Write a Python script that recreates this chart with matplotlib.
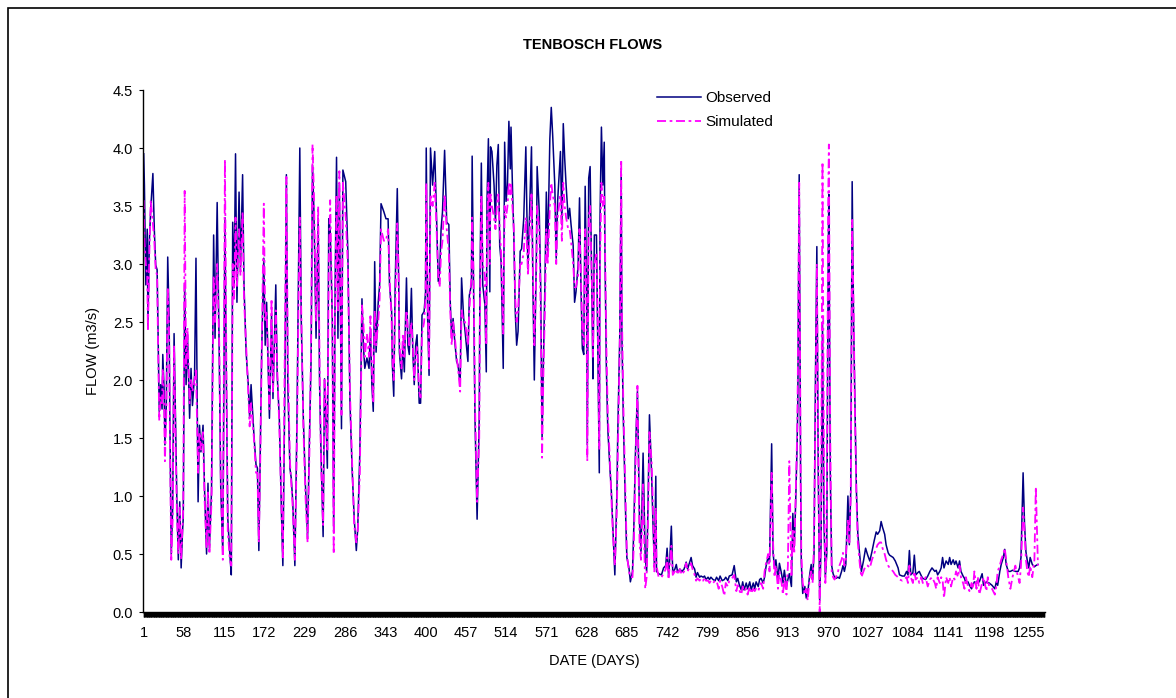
import matplotlib

matplotlib.use("Agg")
import matplotlib.pyplot as plt
import matplotlib.ticker as mticker
from matplotlib.patches import Rectangle
import numpy as np

plt.rcParams["font.family"] = ["Liberation Sans", "DejaVu Sans"]

# values (day index, flow in m3/s)
days = [
    1, 2, 4, 6, 7, 9, 11, 14, 16, 18, 20, 21, 23, 25, 27, 28, 30, 31, 33, 35,
    37, 38, 40, 42, 44, 46, 48, 50, 52, 54, 56, 57, 59, 61, 63, 66, 68, 70, 73, 75,
    78, 80, 82, 85, 87, 90, 92, 94, 97, 100, 102, 105, 108, 110, 113, 116, 118, 120, 123, 125,
    127, 129, 131, 133, 136, 138, 141, 143, 146, 149, 151, 153, 157, 160, 162, 164, 166, 168, 171, 173,
    175, 179, 182, 184, 188, 190, 193, 196, 198, 201, 203, 205, 208, 210, 212, 215, 218, 220, 222, 224,
    227, 230, 233, 236, 238, 240, 242, 245, 248, 250, 252, 255, 257, 259, 261, 263, 265, 268, 270, 272,
    274, 276, 278, 281, 283, 287, 290, 293, 296, 299, 302, 304, 307, 309, 310, 312, 314, 317, 320, 322,
    324, 326, 328, 330, 333, 335, 337, 341, 344, 347, 349, 352, 353, 355, 357, 360, 362, 363, 366, 368,
    370, 373, 375, 377, 380, 382, 384, 386, 388, 391, 393, 395, 398, 400, 401, 403, 405, 407, 410, 413,
    415, 418, 420, 422, 424, 427, 430, 433, 435, 437, 439, 441, 444, 446, 449, 451, 454, 456, 460, 462,
    465, 466, 468, 470, 473, 476, 477, 479, 481, 484, 486, 487, 489, 491, 492, 494, 497, 499, 501, 503,
    505, 507, 510, 512, 514, 516, 518, 520, 521, 523, 525, 527, 529, 531, 534, 536, 539, 542, 544, 545,
    547, 550, 552, 554, 557, 558, 561, 563, 565, 567, 569, 571, 573, 576, 578, 580, 583, 585, 587, 591,
    593, 595, 597, 599, 602, 604, 606, 609, 611, 613, 616, 618, 620, 622, 624, 626, 628, 629, 631, 633,
    636, 637, 639, 642, 644, 646, 647, 649, 651, 653, 654, 656, 658, 661, 663, 665, 668, 671, 672, 675,
    677, 678, 680, 683, 685, 688, 690, 693, 695, 697, 700, 703, 705, 708, 711, 713, 715, 717, 720, 722,
    724, 726, 727, 730, 734, 737, 740, 742, 744, 746, 748, 750, 753, 755, 757, 760, 763, 766, 769, 771,
    774, 776, 778, 781, 783, 785, 788, 790, 793, 795, 797, 800, 802, 804, 807, 810, 812, 815, 817, 820,
    823, 825, 828, 830, 834, 837, 840, 842, 844, 847, 849, 851, 854, 856, 859, 861, 864, 866, 868, 871,
    873, 875, 878, 880, 882, 885, 887, 890, 892, 894, 896, 899, 901, 904, 906, 908, 911, 913, 915, 918,
    920, 922, 924, 926, 927, 929, 931, 932, 934, 937, 939, 941, 944, 946, 948, 950, 952, 954, 956, 958,
    960, 962, 964, 966, 968, 970, 971, 973, 975, 977, 979, 981, 984, 986, 989, 991, 993, 995, 998, 1000,
    1002, 1004, 1006, 1008, 1010, 1012, 1015, 1017, 1020, 1023, 1026, 1029, 1032, 1035, 1038, 1040, 1043, 1045, 1047, 1050,
    1052, 1055, 1057, 1062, 1065, 1069, 1071, 1075, 1078, 1081, 1083, 1085, 1087, 1090, 1092, 1094, 1097, 1099, 1102, 1104,
    1108, 1111, 1114, 1117, 1121, 1123, 1125, 1128, 1130, 1132, 1134, 1137, 1140, 1142, 1144, 1147, 1149, 1151, 1154, 1156,
    1158, 1161, 1163, 1165, 1168, 1170, 1173, 1175, 1177, 1180, 1182, 1184, 1188, 1190, 1194, 1196, 1198, 1202, 1206, 1208,
    1210, 1213, 1215, 1218, 1220, 1222, 1225, 1228, 1231, 1235, 1239, 1241, 1243, 1246, 1248, 1250, 1252, 1254, 1256, 1259,
    1262, 1264, 1267,
]

observed = [
    3.95, 3.68, 2.82, 3.30, 2.47, 3.20, 3.48, 3.78, 3.30, 2.99, 2.95, 2.53, 1.73, 1.96, 1.75, 2.22, 1.90, 1.44, 1.78, 3.06,
    2.53, 1.67, 0.50, 0.90, 2.40, 1.67, 0.95, 0.45, 0.95, 0.38, 0.70, 0.81, 2.82, 1.96, 2.39, 1.67, 2.10, 1.78, 2.04, 3.05,
    0.95, 1.61, 1.38, 1.61, 1.09, 0.50, 1.11, 0.55, 1.04, 3.25, 2.36, 3.53, 2.19, 1.09, 0.50, 3.40, 2.00, 0.81, 0.49, 0.32,
    3.36, 2.80, 3.95, 2.67, 3.62, 2.96, 3.77, 2.82, 2.24, 1.96, 1.67, 1.96, 1.53, 1.27, 1.24, 0.53, 1.38, 2.24, 3.05, 2.30,
    2.67, 1.67, 2.56, 1.84, 2.82, 2.04, 1.67, 0.86, 0.40, 2.00, 3.77, 1.96, 1.24, 1.15, 0.95, 0.40, 1.67, 2.82, 4.00, 2.53,
    1.67, 1.09, 0.65, 1.61, 2.19, 3.85, 3.45, 2.36, 3.39, 1.96, 1.38, 0.65, 2.01, 1.67, 1.24, 3.39, 3.30, 2.53, 0.70, 2.82,
    3.92, 2.36, 3.68, 1.58, 3.81, 3.71, 3.11, 1.81, 1.24, 0.81, 0.53, 0.72, 1.38, 2.24, 2.70, 2.30, 2.10, 2.19, 2.10, 2.44,
    1.96, 1.73, 3.02, 2.24, 2.67, 2.82, 3.52, 3.45, 3.39, 3.39, 2.82, 2.59, 2.13, 1.86, 2.82, 3.65, 2.82, 2.24, 2.01, 2.30,
    2.07, 2.88, 2.30, 2.22, 2.79, 2.24, 1.96, 2.30, 2.39, 1.80, 1.80, 2.56, 2.59, 2.76, 4.00, 2.53, 2.04, 4.00, 3.68, 3.97,
    3.54, 2.85, 2.93, 3.30, 3.45, 3.98, 3.36, 3.34, 2.67, 2.36, 2.53, 2.36, 2.16, 2.13, 1.96, 2.88, 2.53, 2.42, 2.16, 2.73,
    2.82, 3.93, 2.82, 1.67, 0.80, 1.67, 2.82, 3.87, 2.82, 2.65, 2.07, 3.54, 4.08, 2.76, 4.01, 3.97, 3.68, 3.36, 3.85, 4.03,
    3.16, 3.02, 2.10, 4.05, 3.54, 3.68, 4.23, 3.82, 4.18, 3.68, 3.25, 2.59, 2.30, 2.42, 3.11, 3.13, 3.39, 4.01, 3.25, 2.96,
    3.39, 4.01, 2.82, 2.00, 3.11, 3.84, 3.45, 2.82, 1.50, 2.20, 2.82, 3.62, 3.11, 4.08, 4.35, 4.11, 3.68, 3.05, 3.54, 3.97,
    3.34, 4.21, 3.91, 3.68, 3.39, 3.48, 3.34, 3.16, 2.67, 2.76, 2.99, 3.57, 2.82, 2.27, 2.22, 3.67, 2.82, 1.44, 3.74, 3.84,
    2.53, 2.01, 3.25, 3.25, 2.24, 1.20, 3.39, 4.18, 3.68, 4.05, 3.11, 2.10, 1.58, 1.24, 1.05, 0.76, 0.32, 1.05, 1.50, 2.39,
    3.80, 2.39, 1.67, 0.90, 0.47, 0.38, 0.26, 0.35, 0.76, 1.34, 1.90, 0.76, 0.52, 1.37, 0.47, 0.35, 0.93, 1.70, 1.19, 0.76,
    0.41, 1.17, 0.35, 0.33, 0.32, 0.38, 0.40, 0.55, 0.32, 0.48, 0.74, 0.34, 0.37, 0.41, 0.34, 0.37, 0.35, 0.37, 0.43, 0.37,
    0.43, 0.47, 0.40, 0.37, 0.30, 0.34, 0.30, 0.31, 0.30, 0.31, 0.28, 0.30, 0.28, 0.30, 0.28, 0.27, 0.30, 0.27, 0.31, 0.27,
    0.28, 0.30, 0.27, 0.31, 0.32, 0.40, 0.26, 0.29, 0.24, 0.19, 0.26, 0.19, 0.25, 0.20, 0.26, 0.19, 0.25, 0.20, 0.26, 0.22,
    0.28, 0.29, 0.25, 0.30, 0.39, 0.48, 0.43, 1.45, 0.51, 0.39, 0.45, 0.28, 0.42, 0.33, 0.25, 0.36, 0.22, 0.28, 0.33, 0.22,
    0.85, 0.56, 0.94, 1.43, 1.77, 3.77, 1.14, 0.42, 0.16, 0.22, 0.12, 0.16, 0.33, 0.41, 0.28, 0.50, 2.00, 3.15, 1.20, 0.10,
    0.60, 2.50, 0.80, 0.30, 0.50, 3.00, 3.60, 1.20, 0.40, 0.33, 0.30, 0.29, 0.30, 0.29, 0.35, 0.40, 0.35, 0.41, 1.00, 0.58,
    1.05, 3.71, 2.50, 1.78, 1.05, 0.67, 0.47, 0.35, 0.44, 0.55, 0.49, 0.44, 0.52, 0.61, 0.69, 0.67, 0.70, 0.78, 0.73, 0.67,
    0.58, 0.51, 0.49, 0.47, 0.44, 0.38, 0.32, 0.31, 0.31, 0.35, 0.32, 0.53, 0.32, 0.34, 0.49, 0.32, 0.34, 0.35, 0.31, 0.29,
    0.28, 0.31, 0.35, 0.38, 0.35, 0.36, 0.32, 0.35, 0.38, 0.47, 0.38, 0.44, 0.41, 0.47, 0.41, 0.45, 0.41, 0.44, 0.38, 0.44,
    0.35, 0.31, 0.29, 0.25, 0.26, 0.23, 0.20, 0.23, 0.26, 0.25, 0.28, 0.26, 0.33, 0.23, 0.26, 0.25, 0.25, 0.23, 0.20, 0.26,
    0.23, 0.35, 0.41, 0.47, 0.54, 0.41, 0.35, 0.35, 0.36, 0.35, 0.35, 0.38, 0.47, 1.20, 0.76, 0.52, 0.44, 0.38, 0.47, 0.41,
    0.39, 0.40, 0.41,
]

simulated = [
    3.55, 3.20, 3.00, 2.90, 2.42, 3.10, 3.55, 3.35, 3.20, 2.95, 2.90, 2.45, 1.65, 1.85, 1.80, 2.10, 1.75, 1.30, 1.70, 2.80,
    2.40, 1.60, 0.45, 0.80, 2.30, 1.50, 0.85, 0.50, 0.90, 0.45, 0.75, 0.90, 3.63, 2.10, 2.45, 1.80, 2.00, 1.90, 2.00, 2.10,
    1.20, 1.55, 1.40, 1.55, 1.00, 0.55, 1.05, 0.50, 0.95, 2.90, 2.50, 3.00, 2.30, 1.20, 0.45, 3.90, 2.20, 0.70, 0.45, 0.40,
    3.00, 2.70, 3.40, 2.80, 3.30, 2.90, 3.45, 2.70, 2.30, 1.90, 1.60, 1.80, 1.50, 1.20, 1.20, 0.60, 1.30, 2.20, 3.52, 2.50,
    2.60, 1.75, 2.70, 1.90, 2.60, 2.10, 1.60, 0.90, 0.45, 2.40, 3.75, 2.20, 1.30, 1.10, 0.90, 0.45, 1.50, 2.60, 3.40, 2.60,
    1.60, 1.00, 0.60, 1.50, 2.30, 4.03, 3.60, 2.50, 3.50, 2.10, 1.30, 0.75, 2.00, 1.80, 1.40, 3.00, 3.55, 2.50, 0.50, 2.60,
    3.60, 2.60, 3.80, 1.70, 3.70, 3.40, 3.00, 1.90, 1.30, 0.75, 0.60, 0.70, 1.20, 2.10, 2.65, 2.50, 2.20, 2.40, 2.20, 2.55,
    2.10, 1.80, 2.60, 2.30, 2.50, 2.70, 3.30, 3.20, 3.20, 3.30, 2.90, 2.50, 2.20, 2.00, 2.60, 3.35, 2.90, 2.30, 2.10, 2.40,
    2.20, 2.60, 2.45, 2.30, 2.50, 2.30, 2.00, 2.20, 2.30, 1.90, 1.85, 2.40, 2.50, 2.70, 3.70, 2.70, 2.10, 3.60, 3.50, 3.70,
    3.40, 2.90, 2.80, 3.10, 3.20, 3.60, 3.30, 3.10, 2.60, 2.30, 2.50, 2.40, 2.20, 2.10, 1.90, 2.60, 2.50, 2.50, 2.30, 2.60,
    2.90, 3.40, 2.90, 1.80, 0.95, 1.50, 2.50, 3.60, 3.00, 2.90, 2.30, 3.30, 3.70, 3.00, 3.60, 3.50, 3.40, 3.30, 3.50, 3.60,
    3.30, 3.10, 2.40, 3.50, 3.40, 3.50, 3.70, 3.60, 3.70, 3.50, 3.30, 2.70, 2.50, 2.60, 3.00, 3.00, 3.10, 3.40, 3.10, 2.90,
    3.20, 3.60, 2.90, 2.30, 3.00, 3.50, 3.30, 2.60, 1.33, 2.10, 2.60, 3.30, 3.00, 3.50, 3.70, 3.60, 3.50, 3.00, 3.40, 3.60,
    3.20, 3.70, 3.50, 3.40, 3.30, 3.30, 3.20, 3.00, 2.80, 2.80, 2.90, 3.30, 2.90, 2.40, 2.30, 3.30, 2.70, 1.30, 3.40, 3.50,
    2.70, 2.20, 3.00, 3.10, 2.40, 1.40, 3.00, 3.70, 3.50, 3.60, 3.20, 2.30, 1.70, 1.30, 1.00, 0.70, 0.40, 0.90, 1.30, 2.30,
    3.90, 2.60, 1.80, 1.00, 0.50, 0.35, 0.30, 0.30, 0.60, 1.20, 1.95, 0.60, 0.45, 1.10, 0.20, 0.30, 0.80, 1.55, 1.30, 0.90,
    0.35, 0.90, 0.40, 0.30, 0.30, 0.33, 0.37, 0.47, 0.28, 0.42, 0.57, 0.32, 0.35, 0.37, 0.32, 0.37, 0.32, 0.35, 0.42, 0.35,
    0.39, 0.42, 0.37, 0.32, 0.27, 0.29, 0.27, 0.29, 0.27, 0.30, 0.27, 0.27, 0.25, 0.27, 0.25, 0.27, 0.27, 0.20, 0.27, 0.22,
    0.14, 0.25, 0.22, 0.27, 0.29, 0.32, 0.18, 0.23, 0.19, 0.15, 0.22, 0.18, 0.20, 0.15, 0.22, 0.16, 0.20, 0.18, 0.20, 0.18,
    0.22, 0.25, 0.20, 0.35, 0.42, 0.50, 0.35, 1.20, 0.60, 0.30, 0.40, 0.20, 0.35, 0.25, 0.15, 0.30, 0.15, 0.40, 1.30, 0.30,
    0.70, 0.50, 1.00, 1.50, 2.00, 3.70, 1.30, 0.50, 0.25, 0.15, 0.20, 0.10, 0.30, 0.35, 0.25, 0.60, 1.80, 3.00, 1.40, 0.00,
    0.80, 3.88, 1.20, 0.25, 0.60, 3.50, 4.03, 1.50, 0.35, 0.30, 0.28, 0.30, 0.35, 0.40, 0.45, 0.51, 0.40, 0.45, 0.80, 0.60,
    1.00, 3.38, 2.60, 1.70, 1.00, 0.60, 0.40, 0.30, 0.35, 0.40, 0.40, 0.38, 0.45, 0.50, 0.55, 0.58, 0.60, 0.60, 0.55, 0.50,
    0.45, 0.40, 0.38, 0.35, 0.32, 0.30, 0.28, 0.27, 0.28, 0.30, 0.25, 0.40, 0.30, 0.25, 0.35, 0.28, 0.30, 0.25, 0.30, 0.25,
    0.30, 0.22, 0.28, 0.30, 0.25, 0.20, 0.30, 0.25, 0.30, 0.28, 0.12, 0.30, 0.25, 0.30, 0.22, 0.30, 0.28, 0.35, 0.30, 0.40,
    0.30, 0.25, 0.20, 0.30, 0.22, 0.18, 0.25, 0.20, 0.35, 0.20, 0.30, 0.15, 0.25, 0.30, 0.18, 0.30, 0.22, 0.20, 0.15, 0.22,
    0.35, 0.40, 0.45, 0.50, 0.55, 0.45, 0.30, 0.20, 0.30, 0.40, 0.30, 0.25, 0.40, 0.90, 0.70, 0.45, 0.35, 0.30, 0.40, 0.30,
    0.45, 1.08, 0.40,
]

x_tick_days = list(range(1, 1256, 57))
y_ticks = [0.0, 0.5, 1.0, 1.5, 2.0, 2.5, 3.0, 3.5, 4.0, 4.5]

W, H = 1176, 698
fig = plt.figure(figsize=(W / 100, H / 100), dpi=100)
ax = fig.add_axes([143 / W, 1 - 612 / H, 902 / W, 522 / H])

ax.plot(days, observed, color="#000080", linewidth=1.1, label="Observed")
ax.plot(days, simulated, color="#FF00FF", linewidth=1.3,
        dashes=[5, 2, 1.5, 2], label="Simulated")

ax.set_xlim(0, 1277)
ax.set_ylim(0, 4.5)
ax.set_yticks(y_ticks)
ax.yaxis.set_major_formatter(mticker.FormatStrFormatter("%.1f"))
ax.set_xticks(x_tick_days)
ax.set_xticklabels([str(d) for d in x_tick_days])
# one tick mark per day, which makes the thick black band under the axis
ax.xaxis.set_minor_locator(mticker.FixedLocator(np.arange(1, 1277)))

ax.tick_params(axis="both", direction="out", length=3.2, width=0.8, labelsize=10.5)
ax.tick_params(axis="y", pad=4)
ax.tick_params(axis="x", which="minor", length=3.4, width=1.0)
ax.tick_params(axis="x", which="major", length=3.4, width=1.0, pad=7)

for side in ("top", "right"):
    ax.spines[side].set_visible(False)
for side in ("left", "bottom"):
    ax.spines[side].set_linewidth(1.0)

ax.set_xlabel("DATE (DAYS)", fontsize=10.5, labelpad=10)
ax.set_ylabel("FLOW (m3/s)", fontsize=10.5, labelpad=9)
fig.text(593 / W, 1 - 45 / H, "TENBOSCH FLOWS", fontsize=10.5, fontweight="bold",
         ha="center", va="center")

fig.legend(loc="upper left", bbox_to_anchor=(657 / W, 1 - 91 / H), frameon=False,
           fontsize=11, handlelength=2.9, handletextpad=0.25, labelspacing=0.65,
           borderpad=0, borderaxespad=0)

fig.add_artist(Rectangle((8 / W, -0.05), 1.1, 1.05 - 8 / H, transform=fig.transFigure,
                         fill=False, edgecolor="black", linewidth=1.2))

fig.savefig("out.png", dpi=100)
